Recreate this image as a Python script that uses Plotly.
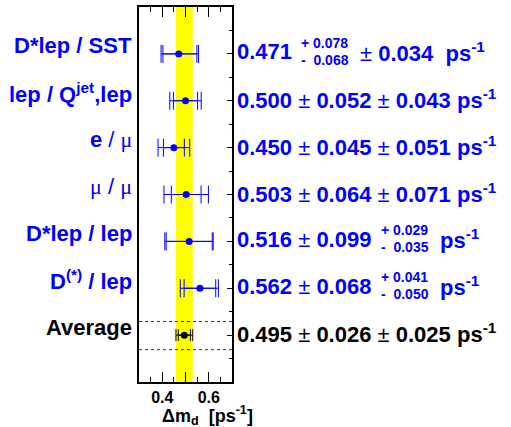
import math
import plotly.graph_objects as go

# ---------------- data ----------------
labels = ["<b>D*lep / SST</b>",
          "<b>lep / Q<sup>jet</sup>,lep</b>",
          "<b>e</b> / MU",
          "MU / MU",
          "<b>D*lep / lep</b>",
          "<b>D<sup>(*)</sup> / lep</b>",
          "<b>Average</b>"]
values = [0.471, 0.500, 0.450, 0.503, 0.516, 0.562, 0.495]
stat_plus = [0.078, 0.052, 0.045, 0.064, 0.099, 0.068, 0.026]
stat_minus = [0.068, 0.052, 0.045, 0.064, 0.099, 0.068, 0.026]
syst_plus = [0.034, 0.043, 0.051, 0.071, 0.029, 0.041, 0.025]
syst_minus = [0.034, 0.043, 0.051, 0.071, 0.035, 0.050, 0.025]
x_tickvals = [0.3, 0.4, 0.5, 0.6, 0.7]
x_ticktext = ["", "0.4", "", "0.6", ""]
x_range = [0.3, 0.7]

FONT = "Liberation Sans, Arial, sans-serif"
SERIF_MU = "<span style=\"font-family:'Liberation Serif'\">μ</span>"
labels = [l.replace("MU", SERIF_MU) for l in labels]

n = len(values)
rows = list(range(1, n + 1))
colors = ["blue"] * (n - 1) + ["black"]
tot_plus = [math.hypot(a, b) for a, b in zip(stat_plus, syst_plus)]
tot_minus = [math.hypot(a, b) for a, b in zip(stat_minus, syst_minus)]

fig = go.Figure()

# measurement rows (blue) and average (black)
groups = [(list(range(n - 1)), "blue", 9), ([n - 1], "black", 6)]
for idx, col, capw in groups:
    xs = [values[i] for i in idx]
    ys = [rows[i] for i in idx]
    fig.add_trace(go.Scatter(
        x=xs, y=ys, mode="markers", marker=dict(size=1, color=col, opacity=0),
        error_x=dict(type="data", symmetric=False,
                     array=[tot_plus[i] for i in idx],
                     arrayminus=[tot_minus[i] for i in idx],
                     color=col, thickness=1, width=capw),
        showlegend=False, hoverinfo="skip"))
    fig.add_trace(go.Scatter(
        x=xs, y=ys, mode="markers", marker=dict(size=7, color=col),
        error_x=dict(type="data", symmetric=False,
                     array=[stat_plus[i] for i in idx],
                     arrayminus=[stat_minus[i] for i in idx],
                     color=col, thickness=1, width=capw),
        showlegend=False, hoverinfo="skip"))

# yellow band = average +- total error
avg_i = n - 1
fig.add_shape(type="rect", xref="x", yref="paper",
              x0=values[avg_i] - tot_minus[avg_i], x1=values[avg_i] + tot_plus[avg_i],
              y0=0, y1=1, fillcolor="#ffff00", line=dict(width=0), layer="below")
# dotted separators around the average
for yy in (rows[avg_i] - 0.29, rows[avg_i] + 0.31):
    fig.add_shape(type="line", xref="paper", yref="y", x0=0, x1=1, y0=yy, y1=yy,
                  line=dict(color="#333333", width=1, dash="dot"))

annotations = []
# left labels
for r, lab, col in zip(rows, labels, colors):
    annotations.append(dict(x=0, xref="paper", y=r, yref="y", text=lab,
                            xanchor="right", yanchor="middle", xshift=-5, yshift=8,
                            showarrow=False, font=dict(family=FONT, size=22, color=col)))

PM = "±"
def fmt(v):
    return f"{v:.3f}"

PS = "<b>ps<sup>-1</sup></b>"
for i in range(n):
    r, col = rows[i], colors[i]
    base = dict(xref="paper", yref="y", y=r, showarrow=False,
                xanchor="left", yanchor="middle", x=1)
    big = dict(family=FONT, size=22, color=col)
    small = dict(family=FONT, size=14, color=col)
    stat_sym = stat_plus[i] == stat_minus[i]
    syst_sym = syst_plus[i] == syst_minus[i]
    if stat_sym and syst_sym:
        txt = (f"<b>{fmt(values[i])}</b> {PM} <b>{fmt(stat_plus[i])}</b> {PM} "
               f"<b>{fmt(syst_plus[i])}</b> {PS}")
        annotations.append(dict(base, text=txt, xshift=3, yshift=2, font=big))
    elif not stat_sym:
        annotations.append(dict(base, text=f"<b>{fmt(values[i])}</b>", xshift=3, yshift=2, font=big))
        annotations.append(dict(base, text=f"<b>+ {fmt(stat_plus[i])}</b>", xshift=67, yshift=11, font=small))
        annotations.append(dict(base, text=f"<b>-  {fmt(stat_minus[i])}</b>", xshift=67, yshift=-6, font=small))
        annotations.append(dict(base, text=f"{PM} <b>{fmt(syst_plus[i])}</b>  {PS}",
                                xshift=126, yshift=2, font=big))
    else:
        annotations.append(dict(base, text=f"<b>{fmt(values[i])}</b> {PM} <b>{fmt(stat_plus[i])}</b>",
                                xshift=3, yshift=2, font=big))
        annotations.append(dict(base, text=f"<b>+ {fmt(syst_plus[i])}</b>", xshift=147, yshift=11, font=small))
        annotations.append(dict(base, text=f"<b>-  {fmt(syst_minus[i])}</b>", xshift=147, yshift=-6, font=small))
        annotations.append(dict(base, text=PS, xshift=206, yshift=2, font=big))

# x-axis title
annotations.append(dict(xref="paper", yref="paper", x=0, y=0, xanchor="left", yanchor="top",
                        xshift=21, yshift=-19, showarrow=False,
                        text="<b>Δm<sub>d</sub>  [ps<sup>-1</sup>]</b>",
                        font=dict(family=FONT, size=18, color="black")))

fig.update_layout(
    width=511, height=427,
    margin=dict(l=139, r=279, t=5, b=45, pad=0),
    paper_bgcolor="white", plot_bgcolor="white",
    annotations=annotations,
    xaxis=dict(range=x_range, showgrid=False, zeroline=False,
               showline=True, linecolor="black", linewidth=2, mirror="ticks",
               ticks="inside", ticklen=10, tickwidth=1, tickcolor="black",
               tickvals=x_tickvals, ticktext=x_ticktext,
               tickfont=dict(family=FONT, size=16, color="black", weight="bold"),
               minor=dict(dtick=0.05, tick0=0.3, ticklen=5, ticks="inside", tickcolor="black")),
    yaxis=dict(range=[n + 1, 0], showgrid=False, zeroline=False,
               showline=True, linecolor="black", linewidth=2, mirror=True,
               side="right", ticks="inside", ticklen=5, tickcolor="black",
               tick0=0, dtick=1, showticklabels=False,
               minor=dict(dtick=0.5, tick0=0, ticklen=3, ticks="inside", tickcolor="black")),
)

fig.write_html("out.html")
